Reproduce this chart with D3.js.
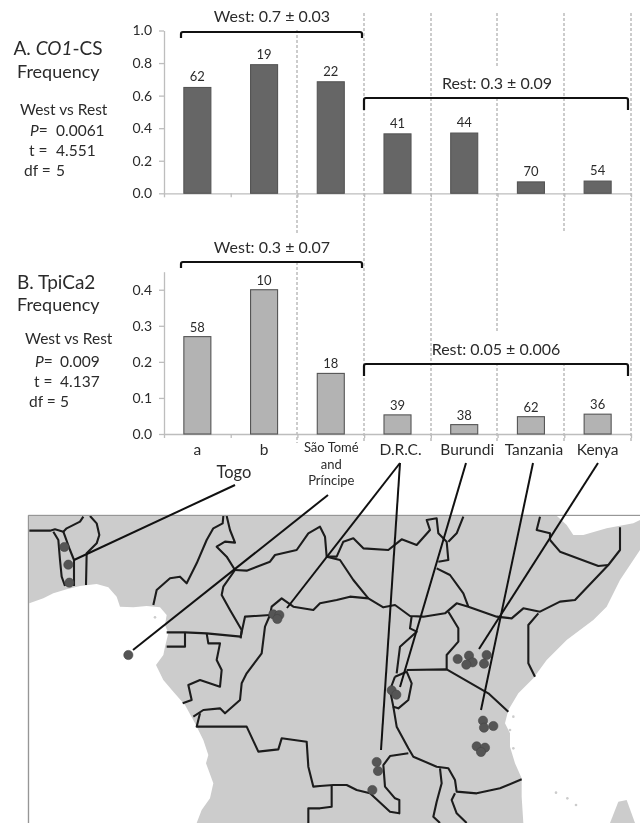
<!DOCTYPE html>
<html>
<head>
<meta charset="utf-8">
<script src="https://d3js.org/d3.v7.min.js"></script>
<style>
  html, body { margin: 0; padding: 0; background: #fff; }
  svg { display: block; filter: blur(0.4px); }
  text { font-family: Lato, "Open Sans", sans-serif; fill: #2b2b2b; }
</style>
</head>
<body>
<div id="chart"></div>
<script>
// Chart values
const categories = ["a", "b", "São Tomé and Príncipe", "D.R.C.", "Burundi", "Tanzania", "Kenya"];
const freqA = [0.65, 0.79, 0.685, 0.365, 0.37, 0.07, 0.075];
const freqB = [0.27, 0.40, 0.168, 0.053, 0.026, 0.048, 0.055];
const sampleA = [62, 19, 22, 41, 44, 70, 54];
const sampleB = [58, 10, 18, 39, 38, 62, 36];
const ticksA = [0, 0.2, 0.4, 0.6, 0.8, 1.0];
const ticksB = [0, 0.1, 0.2, 0.3, 0.4];

// Map outlines, sites in map units (3 units = 1 pixel, origin top left of the map strip)
const westSea = [[88,310],[130,295],[160,280],[200,268],[240,258],[290,252],[325,262],[350,290],[360,320],[400,322],[440,318],[480,322],[500,345],[495,375],[505,400],[495,440],[490,465],[468,495],[490,540],[520,575],[555,615],[585,670],[610,720],[625,765],[618,790],[640,850],[630,895],[605,930],[590,969],[88,969]];
const eastSea = [[1570,969],[1565,890],[1565,835],[1545,790],[1530,740],[1530,700],[1515,670],[1525,630],[1555,580],[1600,535],[1640,480],[1700,420],[1780,360],[1820,320],[1860,240],[1920,150],[1920,969]];
const adenSea = [[1670,47],[1700,75],[1720,105],[1750,105],[1820,85],[1900,70],[1920,60],[1920,47]];
const madagascar = [[1855,905],[1880,900],[1905,969],[1830,969]];
const islands = [[465,352],[1540,650],[1530,690],[1540,745],[1668,878],[1702,895],[1728,915]];
const borders = [
  [[88,92],[150,92],[165,88],[190,95],[200,85],[240,65],[250,50]],
  [[160,95],[175,120],[180,180],[185,230],[195,258]],
  [[190,95],[210,150],[222,180],[222,258]],
  [[270,48],[290,70],[298,105],[290,130],[260,160],[258,255]],
  [[460,315],[470,270],[510,235],[540,230],[560,250],[590,190],[620,120],[640,85],[668,70],[670,48]],
  [[680,48],[690,90],[705,128],[675,125],[650,140],[680,170],[705,210]],
  [[705,210],[670,260],[665,285],[690,330],[725,390],[722,415]],
  [[705,210],[740,212],[810,185],[825,165],[890,150],[925,100],[960,80],[975,110],[980,170],[1020,180],[1060,240],[1105,295]],
  [[500,397],[555,397],[620,400],[722,410],[735,350],[810,345]],
  [[555,397],[555,440],[500,440]],
  [[620,400],[625,430],[660,430],[650,480],[665,510],[660,560],[600,540],[565,555],[575,600],[548,610]],
  [[810,345],[795,380],[785,460],[740,520],[725,550],[720,600],[675,640],[660,625],[610,630],[580,650]],
  [[600,640],[590,680],[740,680],[775,755],[835,748],[845,715],[920,725],[925,800],[940,860],[960,858],[1000,855],[1040,855],[1070,870],[1110,880],[1170,935],[1198,940],[1198,900],[1185,895],[1155,860],[1150,795],[1170,768],[1225,760]],
  [[810,345],[815,320],[845,295],[880,320],[940,330],[960,310],[1010,300],[1050,290],[1105,295],[1150,322],[1185,315],[1230,348],[1270,350],[1335,340],[1370,310],[1405,320],[1490,350],[1535,355],[1570,325],[1620,335],[1680,305],[1725,300],[1825,195],[1860,150],[1860,82]],
  [[980,170],[1010,170],[1030,125],[1060,115],[1090,145],[1165,150],[1205,118],[1250,135],[1290,90],[1280,60],[1310,55],[1315,100],[1340,125],[1345,180],[1315,185]],
  [[1390,50],[1370,100],[1345,125]],
  [[1310,205],[1350,225],[1390,280],[1405,320]],
  [[1345,335],[1375,385],[1375,425],[1340,465],[1340,508]],
  [[1220,510],[1340,508],[1465,580],[1525,635]],
  [[1615,340],[1585,375],[1585,490],[1605,530]],
  [[1650,120],[1680,155],[1795,198],[1825,195]],
  [[1235,348],[1230,385],[1250,395],[1200,440],[1190,520]],
  [[1185,530],[1220,515],[1235,550],[1225,600],[1195,625],[1180,620],[1170,570],[1185,530]],
  [[1180,620],[1190,680],[1225,745],[1240,770],[1310,800],[1345,805],[1365,840],[1370,875],[1430,880],[1500,865],[1565,838]],
  [[1320,805],[1325,850],[1310,905],[1300,950],[1320,969]],
  [[1365,880],[1355,900],[1370,940],[1400,969]],
  [[995,855],[995,920],[960,925],[925,925],[925,969]],
  [[1620,50],[1610,90],[1650,100],[1650,120]]
];
const sites = [[193,141],[205,194],[208,248],[385,465],[820,343],[838,345],[832,357],[1130,786],[1134,813],[1117,870],[1175,571],[1189,584],[1373,477],[1407,467],[1418,487],[1399,494],[1460,465],[1452,491],[1449,662],[1452,683],[1480,678],[1430,739],[1455,743],[1443,756]];

const width = 640, height = 823;

const svg = d3.select("#chart").append("svg")
  .attr("width", width)
  .attr("height", height);

// x scales shared by both panels
const xBand = d3.scaleBand()
  .domain(categories)
  .range([164, 631])
  .paddingInner(0.595)
  .paddingOuter(0.2975);

const xSlots = d3.scaleLinear().domain([0, 7]).range([164, 631]);

// Draw one bar panel
function drawPanel(values, sizes, yScale, yTicks, fill, labelGap) {
  const g = svg.append("g");

  const yAxis = g.append("g")
    .attr("transform", "translate(164,0)")
    .call(d3.axisLeft(yScale).tickValues(yTicks).tickFormat(d3.format(".1f")).tickSize(5).tickSizeOuter(0));
  yAxis.selectAll("path,line").attr("stroke", "#bdbdbd").attr("stroke-width", 1.3);
  yAxis.selectAll("text")
    .attr("font-size", "14px")
    .attr("x", -12)
    .style("font-family", "Lato, sans-serif")
    .style("fill", "#2b2b2b");

  const xAxis = g.append("g")
    .attr("transform", "translate(0," + yScale(0) + ")")
    .call(d3.axisBottom(xSlots).ticks(7).tickFormat("").tickSize(4).tickSizeOuter(0));
  xAxis.selectAll("path,line").attr("stroke", "#bdbdbd").attr("stroke-width", 1.3);

  g.selectAll("rect")
    .data(values)
    .enter()
    .append("rect")
    .attr("x", (d, i) => xBand(categories[i]))
    .attr("y", d => yScale(d))
    .attr("width", xBand.bandwidth())
    .attr("height", d => yScale(0) - yScale(d))
    .attr("fill", fill)
    .attr("stroke", "#555")
    .attr("stroke-width", 1.1);

  g.selectAll(".count")
    .data(values)
    .enter()
    .append("text")
    .attr("class", "count")
    .attr("x", (d, i) => xBand(categories[i]) + xBand.bandwidth() / 2)
    .attr("y", d => yScale(d) - labelGap)
    .attr("text-anchor", "middle")
    .attr("font-size", "13px")
    .text((d, i) => sizes[i]);
}

// Dashed separators, [x, top, bottom]
const separators = [[297,30,233],[297,262,443],[364,13,443],[431,13,443],[497,13,67],[497,98,333],[497,363,443],[564,13,232],[564,363,443],[631,13,443]];
svg.selectAll(".sep")
  .data(separators)
  .enter()
  .append("line")
  .attr("class", "sep")
  .attr("x1", d => d[0]).attr("x2", d => d[0])
  .attr("y1", d => d[1]).attr("y2", d => d[2])
  .attr("stroke", "#999")
  .attr("stroke-width", 1)
  .attr("stroke-dasharray", "3,2");

const yA = d3.scaleLinear().domain([0, 1]).range([193.3, 30.5]);
const yB = d3.scaleLinear().domain([0, 0.45]).range([434, 271.7]);

drawPanel(freqA, sampleA, yA, ticksA, "#666", 6);
drawPanel(freqB, sampleB, yB, ticksB, "#b3b3b3", 5);

// Brackets with their means
function bracket(x1, x2, top, drop, label, cx, baseline) {
  svg.append("path")
    .attr("d", `M${x1},${top + drop}V${top + 2}Q${x1},${top} ${x1 + 2},${top}H${x2 - 2}Q${x2},${top} ${x2},${top + 2}V${top + drop}`)
    .attr("fill", "none")
    .attr("stroke", "#111")
    .attr("stroke-width", 2.2);
  svg.append("text")
    .attr("x", cx).attr("y", baseline)
    .attr("text-anchor", "middle")
    .attr("font-size", "16px")
    .text(label);
}
bracket(181, 362, 32, 6, "West: 0.7 ± 0.03", 272, 22);
bracket(364, 628, 98, 12, "Rest: 0.3 ± 0.09", 497, 89);
bracket(181, 362, 262, 6, "West: 0.3 ± 0.07", 272, 253);
bracket(364, 628, 364, 12, "Rest: 0.05 ± 0.006", 496, 355);

// Left hand notes
function note(x, y, size, parts) {
  const t = svg.append("text").attr("x", x).attr("y", y).attr("font-size", size + "px");
  parts.forEach(p => {
    t.append("tspan").attr("font-style", p[1] ? "italic" : "normal").text(p[0]);
  });
}
note(13.5, 55, 19, [["A. "], ["CO1", true], ["-CS"]]);
note(17, 78, 18, [["Frequency"]]);
note(20, 115, 15.5, [["West vs Rest"]]);
note(30, 136, 15.5, [["P", true], ["="]]);
note(56, 136, 15.5, [["0.0061"]]);
note(29, 156, 15.5, [["t  ="]]);
note(56, 156, 15.5, [["4.551"]]);
note(24, 176, 15.5, [["df ="]]);
note(56, 176, 15.5, [["5"]]);

note(17, 289, 19, [["B. TpiCa2"]]);
note(17, 311, 18, [["Frequency"]]);
note(25, 344, 15.5, [["West vs Rest"]]);
note(35, 367, 15.5, [["P", true], ["="]]);
note(60, 367, 15.5, [["0.009"]]);
note(34, 387, 15.5, [["t  ="]]);
note(60, 387, 15.5, [["4.137"]]);
note(29, 407, 15.5, [["df ="]]);
note(60, 407, 15.5, [["5"]]);

// Category labels under panel B
categories.forEach((c, i) => {
  const cx = xBand(c) + xBand.bandwidth() / 2;
  if (i === 2) {
    ["São Tomé", "and", "Príncipe"].forEach((line, k) => {
      svg.append("text")
        .attr("x", cx + 0.5).attr("y", 452 + k * 16.5)
        .attr("text-anchor", "middle")
        .attr("font-size", "13px")
        .text(line);
    });
  } else {
    svg.append("text")
      .attr("x", cx + (i > 2 && i < 6 ? 3 : 0)).attr("y", 455)
      .attr("text-anchor", "middle")
      .attr("font-size", "15.5px")
      .text(c);
  }
});
svg.append("text")
  .attr("x", 234).attr("y", 478)
  .attr("text-anchor", "middle")
  .attr("font-size", "16.5px")
  .text("Togo");

// ---------------------- Map ----------------------
const mapX = d3.scaleLinear().domain([0, 1920]).range([0, 640]);
const mapY = d3.scaleLinear().domain([0, 969]).range([500, 823]);
const mapLine = d3.line().x(d => mapX(d[0])).y(d => mapY(d[1]));

const map = svg.append("g");

map.append("rect")
  .attr("x", mapX(85)).attr("y", mapY(46))
  .attr("width", mapX(1920) - mapX(85))
  .attr("height", mapY(969) - mapY(46))
  .attr("fill", "#ccc");

[westSea, eastSea, adenSea].forEach(s => {
  map.append("path").attr("d", mapLine(s) + "Z").attr("fill", "#fff");
});
map.append("path").attr("d", mapLine(madagascar) + "Z").attr("fill", "#ccc");

map.selectAll(".isle")
  .data(islands)
  .enter()
  .append("circle")
  .attr("class", "isle")
  .attr("cx", d => mapX(d[0]))
  .attr("cy", d => mapY(d[1]))
  .attr("r", 1.3)
  .attr("fill", "#ccc");

map.selectAll(".border")
  .data(borders)
  .enter()
  .append("path")
  .attr("class", "border")
  .attr("d", mapLine)
  .attr("fill", "none")
  .attr("stroke", "#1c1c1c")
  .attr("stroke-width", 2.1)
  .attr("stroke-linejoin", "round");

map.append("path")
  .attr("d", `M${mapX(85)},${mapY(969)}V${mapY(46)}H${mapX(1920)}`)
  .attr("fill", "none")
  .attr("stroke", "#888")
  .attr("stroke-width", 1);

map.selectAll(".site")
  .data(sites)
  .enter()
  .append("circle")
  .attr("class", "site")
  .attr("cx", d => mapX(d[0]))
  .attr("cy", d => mapY(d[1]))
  .attr("r", 4.6)
  .attr("fill", "#555")
  .attr("stroke", "#444")
  .attr("stroke-width", 0.6);

// Leaders from the labels down to the sites
const leaders = [
  [[235,485],[74,560]],
  [[328,495],[133,650]],
  [[400,463],[287,608]],
  [[400,463],[381,750]],
  [[466,463],[400,687]],
  [[533,463],[481,710]],
  [[598,463],[479,649]]
];
svg.selectAll(".leader")
  .data(leaders)
  .enter()
  .append("line")
  .attr("class", "leader")
  .attr("x1", d => d[0][0]).attr("y1", d => d[0][1])
  .attr("x2", d => d[1][0]).attr("y2", d => d[1][1])
  .attr("stroke", "#111")
  .attr("stroke-width", 2);
</script>
</body>
</html>
